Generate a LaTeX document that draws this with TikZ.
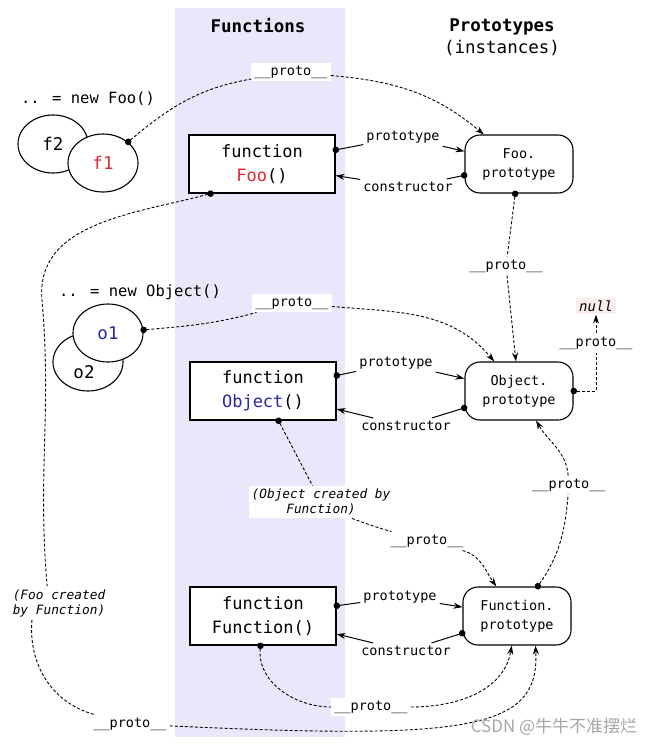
\documentclass[tikz,border=0pt]{standalone}
\usepackage{fontspec}
\setmainfont{DejaVu Sans Mono}
\newfontfamily\cjk{Noto Sans CJK SC}
\usetikzlibrary{arrows.meta,shapes.geometric}
\definecolor{bandcol}{RGB}{232,232,250}
\definecolor{fooRed}{RGB}{222,40,52}
\definecolor{objBlue}{RGB}{40,40,170}
\definecolor{nullbg}{RGB}{251,238,238}
\newcommand{\pname}{\_\_proto\_\_}
\tikzset{fbox/.style={draw,fill=white,line width=1.1pt,minimum width=146pt,minimum height=58pt,align=center,inner sep=0pt,font=\fontsize{17}{24}\selectfont}}
\tikzset{pbox/.style={draw,fill=white,line width=1.1pt,rounded corners=15pt,minimum width=108pt,minimum height=58pt,align=center,inner sep=0pt,font=\fontsize{13.5}{19}\selectfont}}
\tikzset{inst/.style={draw,ellipse,fill=white,line width=1.1pt,minimum width=70pt,minimum height=58pt,inner sep=0pt,font=\fontsize{17.5}{20}\selectfont}}
\tikzset{lbl/.style={fill=white,inner sep=3pt,font=\fontsize{13.5}{16}\selectfont}}
\tikzset{note/.style={inner sep=1pt,font=\fontsize{15.5}{18}\selectfont}}
\tikzset{cmt/.style={fill=white,inner sep=3pt,align=center,font=\fontsize{12.8}{15}\selectfont\itshape}}
\tikzset{head/.style={font=\fontsize{17.5}{22}\selectfont}}
\tikzset{sdot/.style={line width=1pt,shorten <=-3pt,{Circle[length=6.5pt]}-}}
\tikzset{sarr/.style={line width=1pt,-{Stealth[length=9pt,width=6pt]}}}
\tikzset{pline/.style={line width=0.9pt,dash pattern=on 3pt off 2pt}}
\tikzset{pdot/.style={pline,shorten <=-3pt,{Circle[length=6.5pt]}-}}
\tikzset{parr/.style={pline,-{Stealth[length=9pt,width=6pt]}}}
\begin{document}
\begin{tikzpicture}[x=1pt,y=1pt]
    \useasboundingbox (0,0) rectangle (645,-747);
    \fill[bandcol] (175,-8) rectangle (345,-737);

    % headings
    \node[head] (hfun) at (258,-26) {\bfseries Functions};
    \node[head,align=center] (hproto) at (502,-37) {\textbf{Prototypes}\\(instances)};

    % instances
    \node[note] (newfoo) at (88,-99) {.. = new Foo()};
    \node[inst] (f2) at (53,-144) {f2};
    \node[inst] (f1) at (103,-163) {\textcolor{fooRed}{f1}};
    \node[note] (newobj) at (140,-292) {.. = new Object()};
    \node[inst] (o2) at (88,-362) {\raisebox{-16pt}[0pt][0pt]{o2\hspace{8pt}}};
    \node[inst] (o1) at (108,-333) {\textcolor{objBlue}{o1}};

    % functions and prototypes
    \node[fbox] (foo) at (262,-164) {function\\\textcolor{fooRed}{Foo}()};
    \node[fbox] (obj) at (263,-391) {function\\\textcolor{objBlue}{Object}()};
    \node[fbox] (fn) at (263,-616) {function\\Function()};
    \node[pbox] (foop) at (519,-164) {Foo.\\prototype};
    \node[pbox] (objp) at (519,-391) {Object.\\prototype};
    \node[pbox] (fnp) at (517,-616) {Function.\\prototype};
    \node[fill=nullbg,inner sep=3pt,font=\fontsize{14}{16}\selectfont\itshape] (nul) at (596,-306) {null};

    % labels
    \node[lbl] (fooa) at (403,-137) {prototype};
    \node[lbl] (fooc) at (408,-187) {constructor};
    \node[lbl] (obja) at (396,-363) {prototype};
    \node[lbl] (objc) at (406,-426) {constructor};
    \node[lbl] (fna) at (400,-597) {prototype};
    \node[lbl] (fnc) at (406,-651) {constructor};
    \node[lbl] (pfoo) at (291,-72) {\pname};
    \node[lbl] (p2) at (506,-266) {\pname};
    \node[lbl] (p3) at (292,-303) {\pname};
    \node[lbl] (p4) at (596,-343) {\pname};
    \node[lbl] (p5) at (427,-541) {\pname};
    \node[lbl] (p6) at (569,-485) {\pname};
    \node[lbl] (p7) at (371,-707) {\pname};
    \node[lbl] (bproto) at (130,-724) {\pname};
    \node[cmt] (ocr) at (321,-502) {(Object created by\\Function)};
    \node[cmt] (fcr) at (59,-603) {(Foo created\\by Function)};
    \coordinate (fbend) at (42,-300);

    % prototype / constructor
    \draw[sdot] (foo) -- (fooa);
    \draw[sarr] (fooa) -- (foop);
    \draw[sdot] (foop) -- (fooc);
    \draw[sarr] (fooc) -- (foo);
    \draw[sdot] (obj) -- (obja);
    \draw[sarr] (obja) -- (objp);
    \draw[sdot] (objp) -- (objc);
    \draw[sarr] (objc) -- (obj);
    \draw[sdot] (fn) -- (fna);
    \draw[sarr] (fna) -- (fnp);
    \draw[sdot] (fnp) -- (fnc);
    \draw[sarr] (fnc) -- (fn);

    % __proto__ chains
    \draw[pdot] (f1) to[out=40,in=190] (pfoo);
    \draw[parr] (pfoo) to[out=-5,in=140] (foop);
    \draw[pdot] (foop) -- (p2);
    \draw[parr] (p2) -- (objp);
    \draw[pdot] (o1) to[out=5,in=195] (p3);
    \draw[parr] (p3) to[out=-5,in=130] (objp);
    \draw[pdot] (objp) -| (p4);
    \draw[parr] (p4) -- (nul);
    \draw[pdot] (obj) -- (ocr);
    \draw[pline] (ocr.-28) to[out=-20,in=165] (p5);
    \draw[parr] (p5) to[out=-15,in=125] (fnp);
    \draw[pdot] (fnp) to[out=55,in=-95] (p6);
    \draw[parr] (p6) to[out=95,in=-60] (objp);
    \draw[pdot] (fn) to[out=-95,in=180] (p7);
    \draw[parr] (p7) to[out=0,in=-100] (fnp);
    \draw[pdot] (foo.210) to[out=195,in=95] (fbend) to[out=-85,in=95] (fcr.125);
    \draw[pline] (fcr.212) to[out=-95,in=165] (bproto);
    \draw[parr] (bproto) .. controls (470,-740) and (540,-730) .. (fnp.-58);

    \node[font=\cjk\fontsize{17}{17}\selectfont,text=gray!70] (wm) at (554,-727) {CSDN @牛牛不准摆烂};
\end{tikzpicture}
\end{document}
